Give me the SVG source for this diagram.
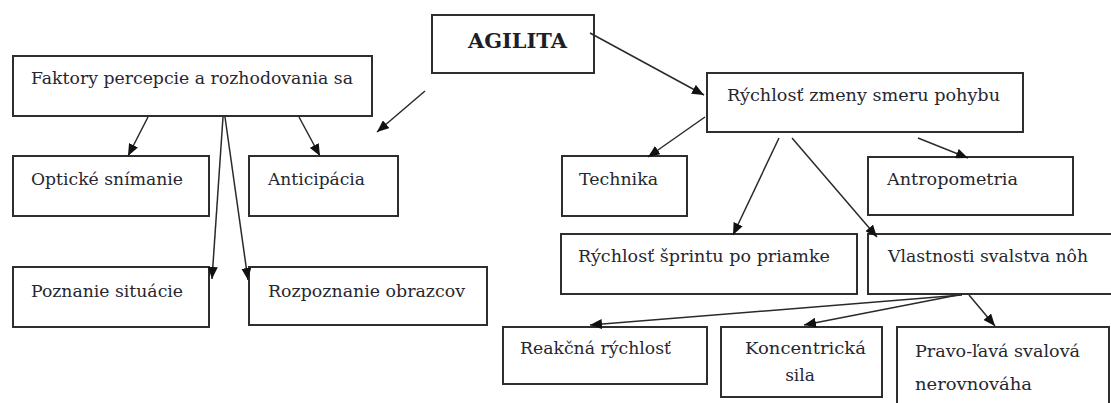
<svg xmlns="http://www.w3.org/2000/svg" width="1111" height="403" viewBox="0 0 1111 403">
  <style>
    .box { fill: #ffffff; stroke: #2e2e2e; stroke-width: 2; }
    .lbl { font-family: "DejaVu Serif", "Liberation Serif", serif; font-size: 17px; fill: #262630; }
    .title { font-family: "DejaVu Serif", "Liberation Serif", serif; font-size: 21px; font-weight: bold; fill: #1e1e28; }
    .conn { stroke: #2a2a2a; stroke-width: 1.5; fill: none; marker-end: url(#head); }
  </style>
  <defs>
    <marker id="head" markerUnits="userSpaceOnUse" markerWidth="12" markerHeight="10" refX="12" refY="5" orient="auto">
      <path d="M0,0 L12,5 L0,10 z" fill="#111111"/>
    </marker>
  </defs>

  <rect width="1111" height="403" fill="#ffffff"/>

  <!-- boxes -->
  <g id="agilita">
    <rect class="box" x="432" y="15" width="162" height="58"/>
    <text class="title" x="468" y="48" textLength="99" lengthAdjust="spacingAndGlyphs">AGILITA</text>
  </g>
  <g id="faktory">
    <rect class="box" x="13" y="56" width="359" height="60"/>
    <text class="lbl" x="31" y="84" textLength="322" lengthAdjust="spacingAndGlyphs">Faktory percepcie a rozhodovania sa</text>
  </g>
  <g id="rychlost-zmeny">
    <rect class="box" x="707" y="73" width="316" height="59"/>
    <text class="lbl" x="727" y="101" textLength="273" lengthAdjust="spacingAndGlyphs">Rýchlosť zmeny smeru pohybu</text>
  </g>
  <g id="opticke">
    <rect class="box" x="13" y="156" width="196" height="60"/>
    <text class="lbl" x="31" y="185" textLength="152" lengthAdjust="spacingAndGlyphs">Optické snímanie</text>
  </g>
  <g id="anticipacia">
    <rect class="box" x="249" y="156" width="149" height="60"/>
    <text class="lbl" x="268" y="185" textLength="97" lengthAdjust="spacingAndGlyphs">Anticipácia</text>
  </g>
  <g id="poznanie">
    <rect class="box" x="13" y="267" width="196" height="60"/>
    <text class="lbl" x="31" y="297" textLength="152" lengthAdjust="spacingAndGlyphs">Poznanie situácie</text>
  </g>
  <g id="rozpoznanie">
    <rect class="box" x="249" y="267" width="238" height="58"/>
    <text class="lbl" x="268" y="297" textLength="197" lengthAdjust="spacingAndGlyphs">Rozpoznanie obrazcov</text>
  </g>
  <g id="technika">
    <rect class="box" x="562" y="156" width="125" height="60"/>
    <text class="lbl" x="579" y="185" textLength="79" lengthAdjust="spacingAndGlyphs">Technika</text>
  </g>
  <g id="antropometria">
    <rect class="box" x="868" y="157" width="205" height="58"/>
    <text class="lbl" x="887" y="185" textLength="131" lengthAdjust="spacingAndGlyphs">Antropometria</text>
  </g>
  <g id="sprint">
    <rect class="box" x="561" y="234" width="296" height="60"/>
    <text class="lbl" x="578" y="262" textLength="252" lengthAdjust="spacingAndGlyphs">Rýchlosť šprintu po priamke</text>
  </g>
  <g id="svalstvo">
    <rect class="box" x="868" y="234" width="250" height="60"/>
    <text class="lbl" x="888" y="262" textLength="200" lengthAdjust="spacingAndGlyphs">Vlastnosti svalstva nôh</text>
  </g>
  <g id="reakcna">
    <rect class="box" x="503" y="327" width="204" height="57"/>
    <text class="lbl" x="520" y="354" textLength="151" lengthAdjust="spacingAndGlyphs">Reakčná rýchlosť</text>
  </g>
  <g id="koncentricka">
    <rect class="box" x="721" y="327" width="161" height="70"/>
    <text class="lbl" x="745" y="354" textLength="121" lengthAdjust="spacingAndGlyphs">Koncentrická</text>
    <text class="lbl" x="800" y="381" text-anchor="middle">sila</text>
  </g>
  <g id="nerovnovaha">
    <rect class="box" x="897" y="327" width="212" height="90"/>
    <text class="lbl" x="915" y="357" textLength="165" lengthAdjust="spacingAndGlyphs">Pravo-ľavá svalová</text>
    <text class="lbl" x="915" y="390" textLength="117" lengthAdjust="spacingAndGlyphs">nerovnováha</text>
  </g>

  <!-- connectors -->
  <g id="connectors">
    <line class="conn" x1="590" y1="33" x2="704" y2="95"/>
    <line class="conn" x1="425" y1="91" x2="377" y2="132"/>
    <line class="conn" x1="148" y1="117" x2="128" y2="156"/>
    <line class="conn" x1="223" y1="117" x2="212" y2="279"/>
    <line class="conn" x1="225" y1="117" x2="248" y2="280"/>
    <line class="conn" x1="299" y1="117" x2="320" y2="156"/>
    <line class="conn" x1="705" y1="117" x2="648" y2="157"/>
    <line class="conn" x1="779" y1="138" x2="733" y2="235"/>
    <line class="conn" x1="792" y1="138" x2="877" y2="237"/>
    <line class="conn" x1="918" y1="138" x2="968" y2="158"/>
    <line class="conn" x1="962" y1="295" x2="590" y2="325"/>
    <line class="conn" x1="958" y1="295" x2="804" y2="325"/>
    <line class="conn" x1="969" y1="295" x2="995" y2="326"/>
  </g>
</svg>
